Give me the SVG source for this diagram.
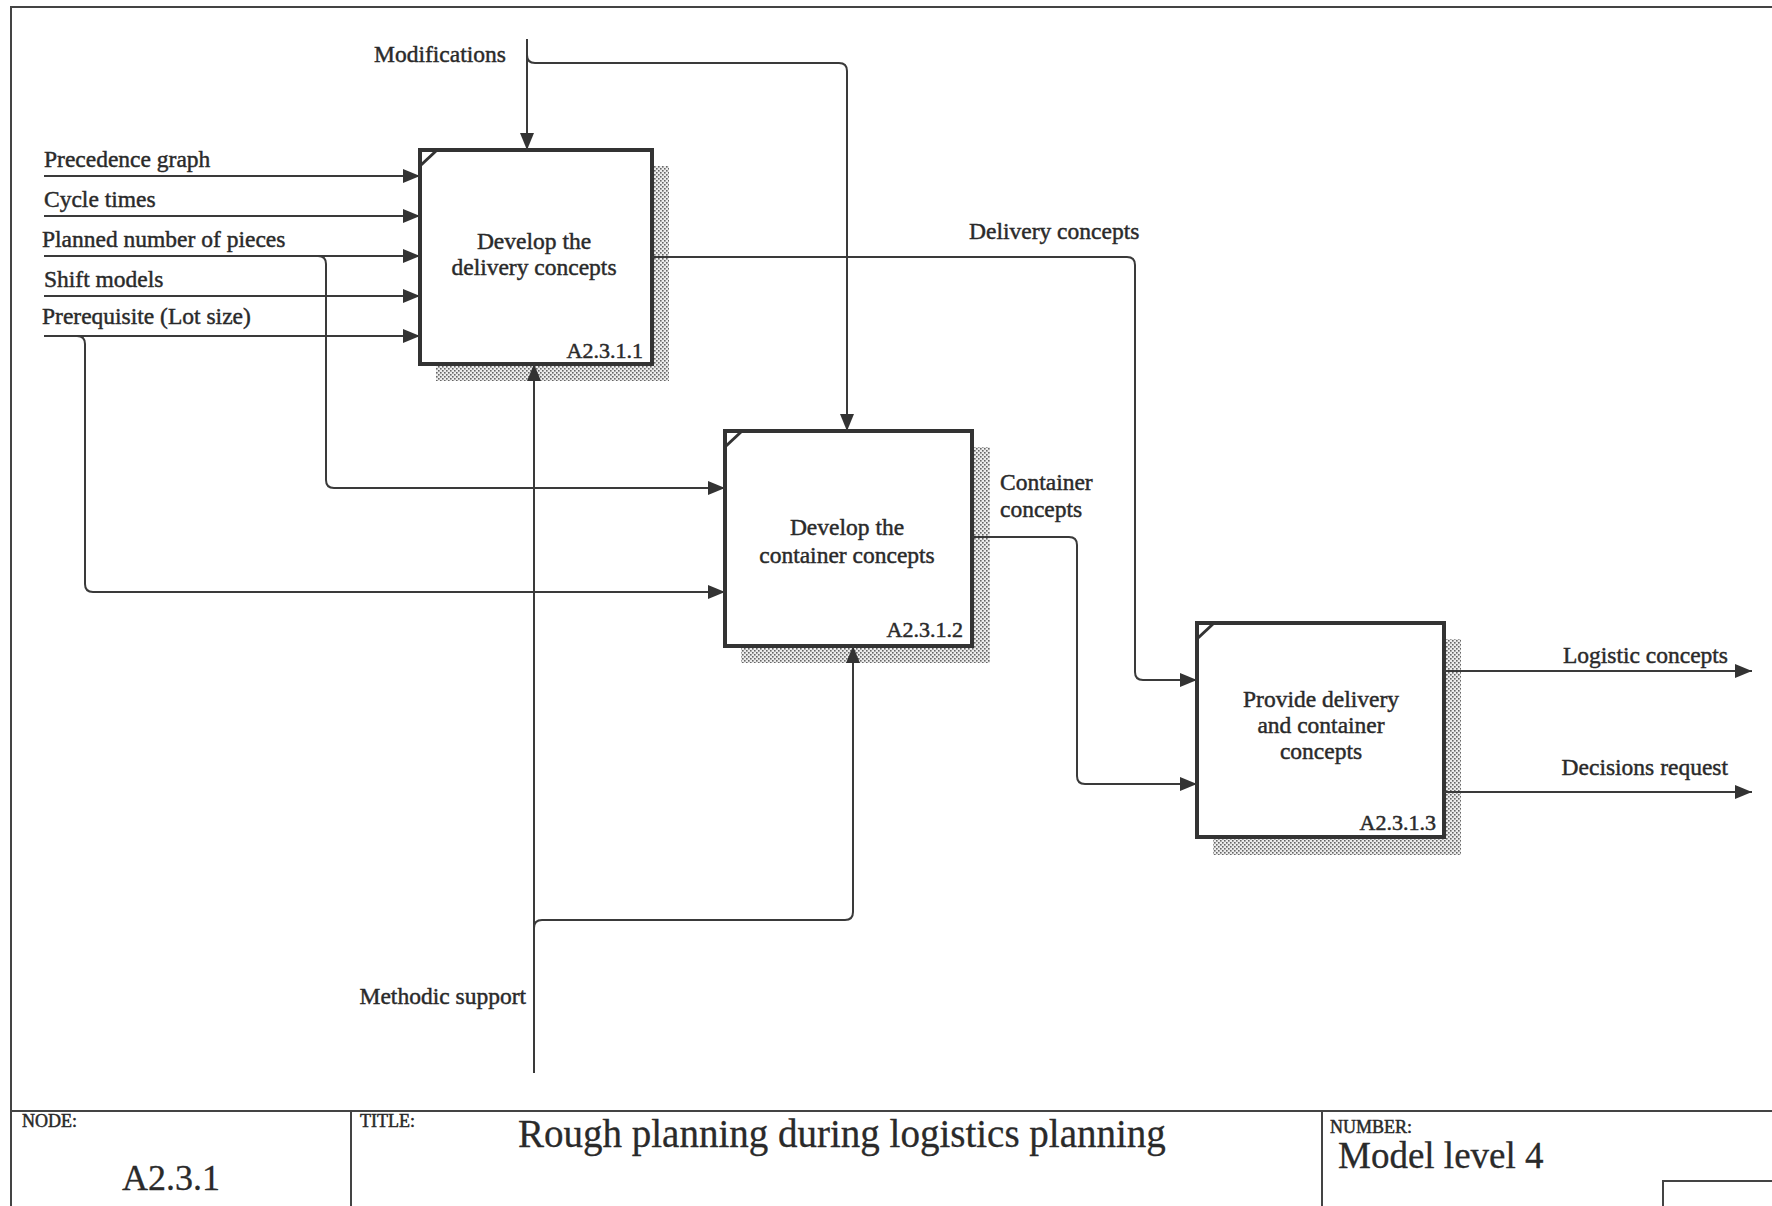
<svg xmlns="http://www.w3.org/2000/svg" width="1772" height="1206" viewBox="0 0 1772 1206">
  <style>
    .lbl { font-family: "Liberation Serif", "Times New Roman", serif; font-size: 23.5px; fill: #2a2a2a; stroke: #2a2a2a; stroke-width: 0.45; }
    .box-text { font-family: "Liberation Serif", "Times New Roman", serif; font-size: 23.5px; fill: #2a2a2a; stroke: #2a2a2a; stroke-width: 0.45; text-anchor: middle; }
    .box-id { font-family: "Liberation Serif", "Times New Roman", serif; font-size: 22px; fill: #2a2a2a; stroke: #2a2a2a; stroke-width: 0.5; text-anchor: end; }
    .small-cap { font-family: "Liberation Serif", "Times New Roman", serif; font-size: 18px; fill: #2a2a2a; stroke: #2a2a2a; stroke-width: 0.5; }
    .big { font-family: "Liberation Serif", "Times New Roman", serif; fill: #2a2a2a; stroke: #2a2a2a; stroke-width: 0.3; }
    .frame { fill: none; stroke: #444; stroke-width: 2; }
    .box { fill: #fff; stroke: #333; stroke-width: 4; }
    .corner { stroke: #333; stroke-width: 3; fill: none; }
    .shadow { fill: url(#hatch); }
    .conn { fill: none; stroke: #3a3a3a; stroke-width: 2; }
  </style>
  <defs>
    <pattern id="hatch" width="4" height="4" patternUnits="userSpaceOnUse">
      <rect width="4" height="4" fill="#ececec"/>
      <rect x="0" y="0" width="1.6" height="1.6" fill="#666"/>
      <rect x="2" y="2" width="1.6" height="1.6" fill="#666"/>
    </pattern>
    <marker id="arrow" markerUnits="userSpaceOnUse" markerWidth="17" markerHeight="15" refX="17" refY="7.5" orient="auto">
      <path d="M0,0.5 L17,7.5 L0,14.5 z" fill="#333"/>
    </marker>
  </defs>

  <rect width="1772" height="1206" fill="#fff"/>

  <!-- Sheet frame and title block -->
  <g id="frame">
    <path class="frame" d="M11,1206 V7 H1772"/>
    <path class="frame" d="M11,1111 H1772"/>
    <path class="frame" d="M351,1111 V1206"/>
    <path class="frame" d="M1322,1111 V1206"/>
    <path class="frame" d="M1663,1206 V1181 H1772"/>
    <text class="small-cap" x="22" y="1127">NODE:</text>
    <text class="big" x="171" y="1190" font-size="36" text-anchor="middle">A2.3.1</text>
    <text class="small-cap" x="360" y="1127">TITLE:</text>
    <text class="big" x="518" y="1147" font-size="39">Rough planning during logistics planning</text>
    <text class="small-cap" x="1330" y="1133">NUMBER:</text>
    <text class="big" x="1338" y="1168" font-size="37">Model level 4</text>
  </g>

  <!-- A2.3.1.1 -->
  <g id="node-a2311">
    <rect class="shadow" x="652" y="166" width="17" height="215"/>
    <rect class="shadow" x="436" y="364" width="233" height="17"/>
    <rect class="box" x="420" y="150" width="232" height="214"/>
    <path class="corner" d="M421,165 L436,151"/>
    <text class="box-text" x="534" y="249">Develop the</text>
    <text class="box-text" x="534" y="275">delivery concepts</text>
    <text class="box-id" x="643" y="358">A2.3.1.1</text>
  </g>

  <!-- A2.3.1.2 -->
  <g id="node-a2312">
    <rect class="shadow" x="972" y="447" width="18" height="216"/>
    <rect class="shadow" x="741" y="646" width="249" height="17"/>
    <rect class="box" x="725" y="431" width="247" height="215"/>
    <path class="corner" d="M726,446 L741,432"/>
    <text class="box-text" x="847" y="535">Develop the</text>
    <text class="box-text" x="847" y="563">container concepts</text>
    <text class="box-id" x="963" y="637">A2.3.1.2</text>
  </g>

  <!-- A2.3.1.3 -->
  <g id="node-a2313">
    <rect class="shadow" x="1444" y="639" width="17" height="216"/>
    <rect class="shadow" x="1213" y="837" width="248" height="18"/>
    <rect class="box" x="1197" y="623" width="247" height="214"/>
    <path class="corner" d="M1198,638 L1213,624"/>
    <text class="box-text" x="1321" y="707">Provide delivery</text>
    <text class="box-text" x="1321" y="733">and container</text>
    <text class="box-text" x="1321" y="759">concepts</text>
    <text class="box-id" x="1436" y="830">A2.3.1.3</text>
  </g>

  <!-- Connectors (drawn over the shadows) -->
  <g id="connectors">
    <!-- Modifications (control) -->
    <path class="conn" d="M527,39 V150" marker-end="url(#arrow)"/>
    <path class="conn" d="M527,55 Q527,63 535,63 H839 Q847,63 847,71 V431" marker-end="url(#arrow)"/>
    <!-- Inputs of A2.3.1.1 -->
    <path class="conn" d="M44,176 H420" marker-end="url(#arrow)"/>
    <path class="conn" d="M44,216 H420" marker-end="url(#arrow)"/>
    <path class="conn" d="M44,256 H420" marker-end="url(#arrow)"/>
    <path class="conn" d="M44,296 H420" marker-end="url(#arrow)"/>
    <path class="conn" d="M44,336 H420" marker-end="url(#arrow)"/>
    <!-- Branches to A2.3.1.2 -->
    <path class="conn" d="M318,256 Q326,256 326,264 V480 Q326,488 334,488 H725" marker-end="url(#arrow)"/>
    <path class="conn" d="M77,336 Q85,336 85,344 V584 Q85,592 93,592 H725" marker-end="url(#arrow)"/>
    <!-- Delivery concepts -->
    <path class="conn" d="M652,257 H1127 Q1135,257 1135,265 V672 Q1135,680 1143,680 H1197" marker-end="url(#arrow)"/>
    <!-- Container concepts -->
    <path class="conn" d="M972,537 H1069 Q1077,537 1077,545 V776 Q1077,784 1085,784 H1197" marker-end="url(#arrow)"/>
    <!-- Outputs -->
    <path class="conn" d="M1444,671 H1752" marker-end="url(#arrow)"/>
    <path class="conn" d="M1444,792 H1752" marker-end="url(#arrow)"/>
    <!-- Methodic support (mechanism) -->
    <path class="conn" d="M534,1073 V364" marker-end="url(#arrow)"/>
    <path class="conn" d="M534,928 Q534,920 542,920 H845 Q853,920 853,912 V646" marker-end="url(#arrow)"/>

    <text class="lbl" x="374" y="62">Modifications</text>
    <text class="lbl" x="44" y="167">Precedence graph</text>
    <text class="lbl" x="44" y="207">Cycle times</text>
    <text class="lbl" x="42" y="247">Planned number of pieces</text>
    <text class="lbl" x="44" y="287">Shift models</text>
    <text class="lbl" x="42" y="324">Prerequisite (Lot size)</text>
    <text class="lbl" x="969" y="239">Delivery concepts</text>
    <text class="lbl" x="1000" y="490">Container</text>
    <text class="lbl" x="1000" y="517">concepts</text>
    <text class="lbl" x="1728" y="663" text-anchor="end">Logistic concepts</text>
    <text class="lbl" x="1728" y="775" text-anchor="end">Decisions request</text>
    <text class="lbl" x="526" y="1004" text-anchor="end">Methodic support</text>
  </g>
</svg>
